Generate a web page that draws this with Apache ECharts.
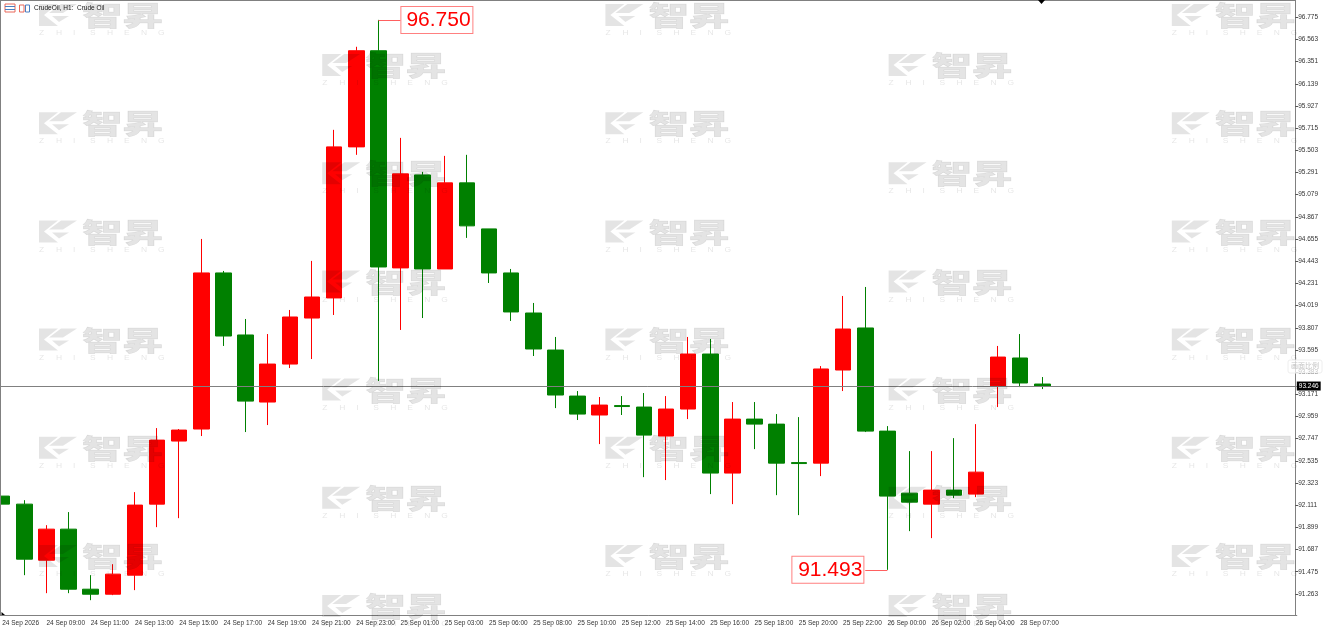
<!DOCTYPE html>
<html>
<head>
<meta charset="utf-8">
<style>html,body{margin:0;padding:0;background:#fff;overflow:hidden}#c{width:1327px;height:633px}</style>
<script src="https://cdn.jsdelivr.net/npm/echarts@6/dist/echarts.min.js"></script>
</head>
<body>
<div id="c"></div>
<script>
const categories = ['24 Sep 2026','24 Sep 08:00','24 Sep 09:00','24 Sep 10:00','24 Sep 11:00','24 Sep 12:00','24 Sep 13:00','24 Sep 14:00','24 Sep 15:00','24 Sep 16:00','24 Sep 17:00','24 Sep 18:00','24 Sep 19:00','24 Sep 20:00','24 Sep 21:00','24 Sep 22:00','24 Sep 23:00','25 Sep 00:00','25 Sep 01:00','25 Sep 02:00','25 Sep 03:00','25 Sep 04:00','25 Sep 06:00','25 Sep 07:00','25 Sep 08:00','25 Sep 09:00','25 Sep 10:00','25 Sep 11:00','25 Sep 12:00','25 Sep 13:00','25 Sep 14:00','25 Sep 15:00','25 Sep 16:00','25 Sep 17:00','25 Sep 18:00','25 Sep 19:00','25 Sep 20:00','25 Sep 21:00','25 Sep 22:00','25 Sep 23:00','26 Sep 00:00','26 Sep 01:00','26 Sep 02:00','26 Sep 03:00','26 Sep 04:00','28 Sep 06:00','28 Sep 07:00','28 Sep 08:00','','','','','','','','','','',''];
const opens  = [92.198,92.121,91.585,91.882,91.308,91.260,91.442,92.121,92.724,92.839,94.331,93.738,93.097,93.460,93.900,94.092,95.536,96.455,94.379,95.268,94.369,95.192,94.752,94.331,93.948,93.594,93.154,92.973,93.063,93.049,92.772,93.030,93.556,92.418,92.934,92.886,92.518,92.513,93.403,93.805,92.819,92.226,92.121,92.255,92.217,93.250,93.518,93.269];
const closes = [92.121,91.595,91.882,91.308,91.260,91.452,92.112,92.733,92.829,94.331,93.728,93.106,93.460,93.910,94.101,95.536,96.455,94.388,95.278,94.369,95.192,94.781,94.331,93.958,93.604,93.164,92.982,93.068,93.054,92.781,93.030,93.556,92.418,92.934,92.886,92.513,92.509,93.413,93.795,92.819,92.198,92.140,92.255,92.207,92.427,93.527,93.279,93.250];
const lows   = [92.121,91.442,91.270,91.270,91.203,91.251,91.299,91.901,91.987,92.772,93.633,92.810,92.877,93.422,93.508,93.929,95.460,93.298,93.786,93.900,94.369,94.666,94.235,93.872,93.537,93.039,92.925,92.695,92.973,92.379,92.351,92.934,92.217,92.121,92.647,92.207,92.016,92.389,93.202,92.810,91.493,91.863,91.796,92.179,92.188,93.049,93.240,93.221];
const highs  = [92.198,92.159,91.920,92.045,91.442,91.547,92.236,92.848,92.839,94.656,94.350,93.891,93.747,93.977,94.446,95.699,96.493,96.750,95.622,95.297,95.450,95.460,94.752,94.369,94.044,93.719,93.202,93.145,93.154,93.183,93.154,93.719,93.700,93.097,93.097,92.982,92.953,93.441,94.111,94.197,92.867,92.628,92.628,92.752,92.886,93.633,93.747,93.336];
const priceTicks = [96.775,96.563,96.351,96.139,95.927,95.715,95.503,95.291,95.079,94.867,94.655,94.443,94.231,94.019,93.807,93.595,93.383,93.171,92.959,92.747,92.535,92.323,92.111,91.899,91.687,91.475,91.263];
const currentPrice = 93.246;
const highMark = 96.750, highMarkIndex = 17;
const lowMark = 91.493, lowMarkIndex = 40;
const lastTickIndex = 46;

const RED = '#ff0000', GREEN = '#008000', AXIS = '#808080', TXT = '#333333';
const SMALL = {fontFamily:'Liberation Sans', fontSize:6.5, color:TXT};
const WM = 'rgba(0,0,0,0.105)';

function watermark(x, y) {
  const pieces = [
    {type:'polygon', x:x, y:y, z:100, silent:true, shape:{points:[[0,0],[19,0],[5,11],[19,22],[0,22]]}, style:{fill:WM}},
    {type:'polygon', x:x, y:y, z:100, silent:true, shape:{points:[[22,0],[38,0],[24,9],[10,9]]}, style:{fill:WM}},
    {type:'polygon', x:x, y:y, z:100, silent:true, shape:{points:[[13,12],[30,12],[20,18]]}, style:{fill:WM}},
    {type:'text', x:x+43, y:y-1.5, scaleX:1.5, scaleY:1, z:100, silent:true,
      style:{text:'智昇', fontFamily:'Noto Sans CJK SC', fontWeight:900, fontSize:27, fill:WM, stroke:WM, lineWidth:0.5, textBaseline:'top'}}
  ];
  'ZHISHENG'.split('').forEach((ch, i) => {
    pieces.push({type:'text', x:x+i*17, y:y+26, scaleX:1.3, z:100, silent:true,
      style:{text:ch, fontFamily:'Liberation Sans', fontSize:6.5, fill:WM, textBaseline:'top'}});
  });
  return pieces;
}
const graphics = [];
for (let c = 0; c < 5; c++) {
  for (let r = 0; r < 6; r++) {
    graphics.push(...watermark(39 + c * 283.2, (c % 2 ? 54 : 4) + r * 108.2));
  }
}
// frame, header and small marks
graphics.push(
  {type:'rect', shape:{x:0,y:0,width:1296,height:1}, style:{fill:AXIS}, z:20, silent:true},
  {type:'rect', shape:{x:0,y:0,width:1,height:616}, style:{fill:AXIS}, z:20, silent:true},
  {type:'polygon', shape:{points:[[1038,0],[1045,0],[1041.5,4]]}, style:{fill:'#000'}, z:20, silent:true},
  {type:'polygon', shape:{points:[[1.5,612],[1.5,615],[5,615]]}, style:{fill:'#000'}, z:20, silent:true},
  {type:'rect', shape:{x:5,y:4,width:10,height:8}, style:{fill:'#fff',stroke:'#e9695a',lineWidth:1}, z:20, silent:true},
  {type:'rect', shape:{x:5,y:6,width:10,height:1}, style:{fill:'#4a7fc1'}, z:20, silent:true},
  {type:'rect', shape:{x:5,y:9,width:10,height:1}, style:{fill:'#4a7fc1'}, z:20, silent:true},
  {type:'rect', shape:{x:19.5,y:5,width:4.5,height:7}, style:{fill:'#fff',stroke:'#e9695a',lineWidth:1}, z:20, silent:true},
  {type:'rect', shape:{x:25.5,y:5,width:4,height:7}, style:{fill:'#fff',stroke:'#4a7fc1',lineWidth:1}, z:20, silent:true},
  {type:'text', x:34, y:4.5, z:20, silent:true, style:{text:'CrudeOil, H1:  Crude Oil', fontFamily:'Liberation Sans', fontSize:6.5, fill:'#222', textBaseline:'top'}},
  {type:'rect', x:1288, y:360, z:20, silent:true, shape:{width:34,height:13,r:2}, style:{fill:'rgba(255,255,255,0.7)',stroke:'#eeeeee',lineWidth:1}},
  {type:'text', x:1291, y:362, z:21, silent:true, style:{text:'画面比例', fontFamily:'Noto Sans CJK SC', fontSize:7, fill:'#c4c4c4', textBaseline:'top'}}
);

const markBox = {
  show:true, color:RED, fontFamily:'Liberation Sans', fontSize:21,
  borderColor:'#ff8080', borderWidth:1, backgroundColor:'#fff',
  padding:[3,1,1,5], width:65, height:22, lineHeight:22, align:'left', verticalAlign:'middle'
};
const thin = {color:'#ff6060', width:1, type:'solid'};

const option = {
  animation:false,
  backgroundColor:'#ffffff',
  grid:{left:-8.9, width:1305.7, top:1, height:614.5, show:false, outerBoundsMode:'none'},
  xAxis:{
    type:'category', data:categories, boundaryGap:true,
    axisLine:{lineStyle:{color:AXIS,width:1}},
    splitLine:{show:false},
    axisTick:{alignWithLabel:true, length:3, lineStyle:{color:'#555'},
      interval:(i)=> i % 2 === 0 && i <= lastTickIndex},
    axisLabel:{...SMALL, align:'left', margin:4,
      interval:(i)=> i % 2 === 0 && i <= lastTickIndex}
  },
  yAxis:{
    type:'value', position:'right', offset:-1.6, scale:true,
    min:91.0565, max:96.9305,
    axisLine:{show:true,lineStyle:{color:AXIS,width:1}},
    splitLine:{show:false},
    axisTick:{show:true, length:3, lineStyle:{color:'#555'}, customValues:priceTicks},
    axisLabel:{...SMALL, margin:3, customValues:priceTicks, formatter:(v)=>v.toFixed(3)}
  },
  graphic:{elements:graphics},
  series:[
    {
      type:'line', data:[], z:1, silent:true, symbol:'none',
      markLine:{
        silent:true, symbol:'none', animation:false,
        data:[
          {yAxis:currentPrice, lineStyle:{color:'#808080',width:1,type:'solid'},
           label:{show:true, position:'end', distance:0, formatter:()=>currentPrice.toFixed(3),
             fontFamily:'Liberation Sans', fontSize:6.5, color:'#fff', backgroundColor:'#000', padding:[1,2,1,2]}}
        ]
      }
    },
    {
      type:'candlestick', z:3, barWidth:16, clip:true,
      data:opens.map((o,i)=>[o,closes[i],lows[i],highs[i]]),
      itemStyle:{color:RED,color0:GREEN,borderColor:RED,borderColor0:GREEN,borderWidth:1},
      markLine:{
        silent:true, symbol:'none', animation:false, label:{show:false},
        lineStyle:thin,
        data:[
          [{coord:[highMarkIndex,highMark]},{coord:[highMarkIndex+1,highMark]}],
          [{coord:[lowMarkIndex-1,lowMark]},{coord:[lowMarkIndex,lowMark]}]
        ]
      },
      markPoint:{
        silent:true, symbol:'rect', symbolSize:0, animation:false,
        data:[
          {coord:[highMarkIndex,highMark], label:{...markBox, position:'right', distance:23, formatter:()=>highMark.toFixed(3)}},
          {coord:[lowMarkIndex,lowMark], label:{...markBox, align:'right', position:'left', distance:24, formatter:()=>lowMark.toFixed(3)}}
        ]
      }
    }
  ]
};
echarts.init(document.getElementById('c'),null,{renderer:'canvas'}).setOption(option);
</script>
</body>
</html>
